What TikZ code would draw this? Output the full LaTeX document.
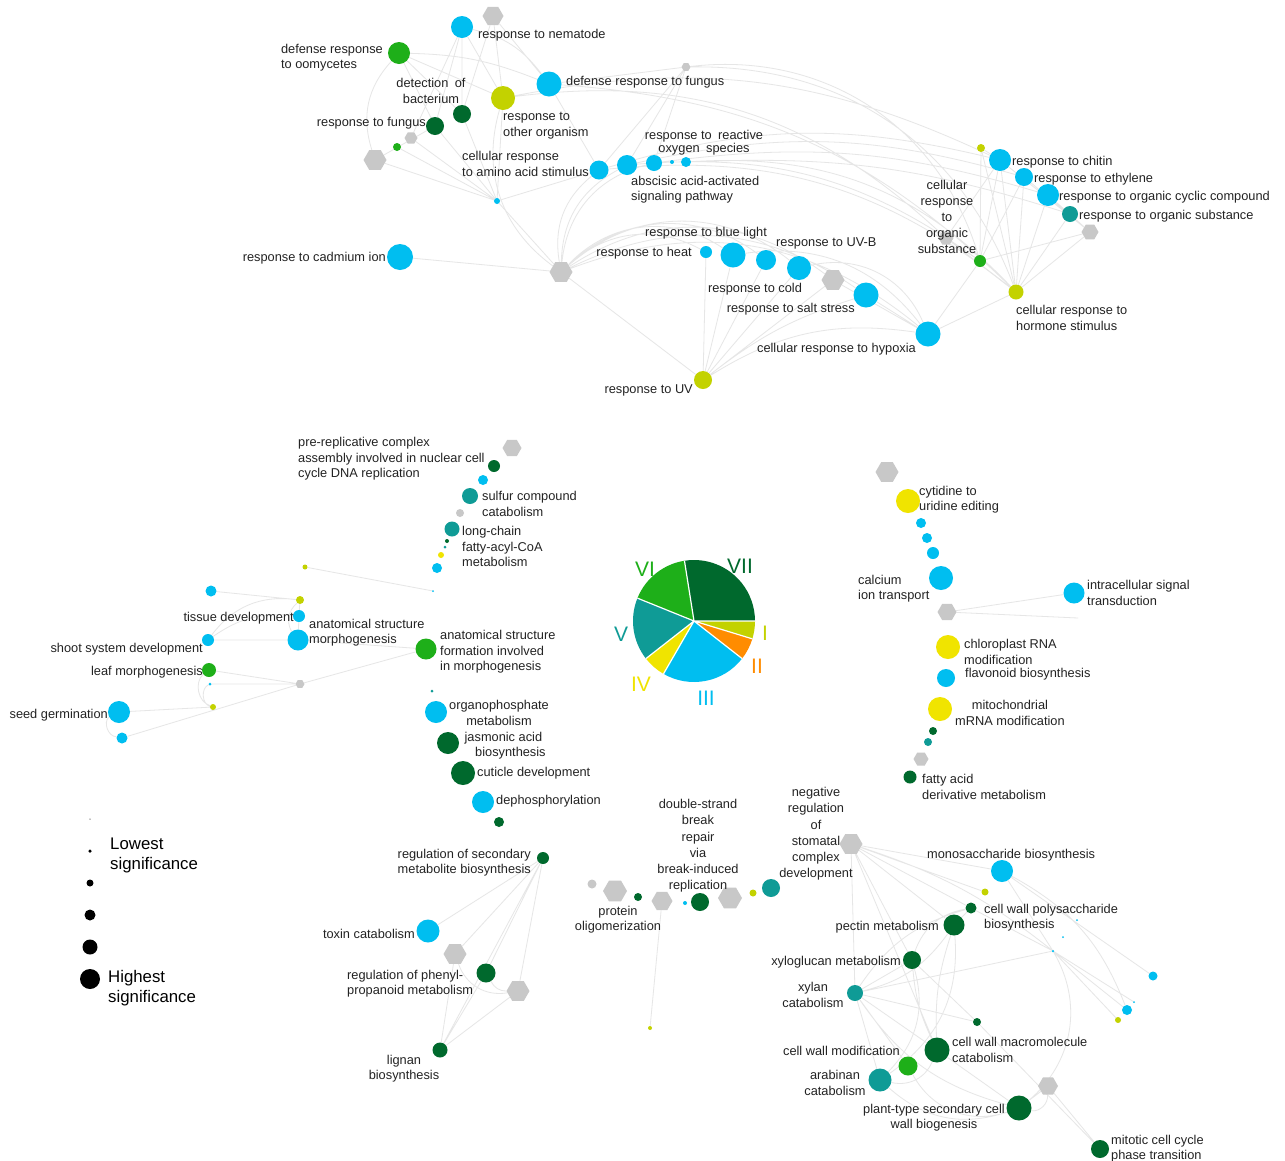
\documentclass[tikz,border=0pt]{standalone}
\usepackage{fontspec}
\setmainfont{Liberation Sans}
\usetikzlibrary{shapes.geometric}
\pgfdeclarelayer{bg}
\pgfsetlayers{bg,main}
\definecolor{cIII}{RGB}{0,190,240}
\definecolor{cVII}{RGB}{0,105,45}
\definecolor{cVI}{RGB}{30,175,25}
\definecolor{cV}{RGB}{15,155,150}
\definecolor{cI}{RGB}{195,210,0}
\definecolor{cII}{RGB}{255,140,0}
\definecolor{cIV}{RGB}{240,228,0}
\definecolor{hexg}{RGB}{200,200,200}
\definecolor{edg}{RGB}{230,230,230}
\definecolor{txt}{RGB}{35,35,35}
\tikzset{
  dot/.style 2 args={circle, fill=#1, inner sep=0pt, minimum size=#2},
  hx/.style={regular polygon, regular polygon sides=6, fill=hexg, inner sep=0pt, minimum size=#1},
  lb/.style={font=\fontsize{12.8}{15.4}\selectfont, text=txt, inner sep=0pt, align=left, yshift=-1.8pt},
  lgd/.style={font=\fontsize{16.8}{20}\selectfont, text=black, inner sep=0pt, align=left, yshift=-1.8pt},
  pl/.style={font=\fontsize{21}{21}\selectfont, inner sep=0pt},
  ed/.style={draw=edg, line width=0.8pt},
  sl/.style={draw=white, line width=1.2pt}
}
\newcommand\GOn[5]{\node[dot={#4}{#5}] (#1) at (#2,#3) {};}
\newcommand\HXn[4]{\node[hx=#4] (#1) at (#2,#3) {};}
\begin{document}
\begin{tikzpicture}[x=1pt,y=-1pt]
\useasboundingbox (0,0) rectangle (1285,1160);
% ---------- top cluster nodes
\HXn{hA}{493}{16}{21}
\GOn{nem}{462}{27}{cIII}{22}
\GOn{oom}{399}{53}{cVI}{22}
\GOn{dfung}{549}{84}{cIII}{25}
\HXn{hB}{686}{67}{9}
\GOn{oth}{503}{98}{cI}{24}
\GOn{det}{462}{114}{cVII}{18}
\GOn{rfung}{435}{126}{cVII}{18}
\HXn{hC}{411}{138}{13}
\GOn{gsm}{397}{147}{cVI}{8}
\HXn{hD}{375}{160}{23}
\GOn{bsm}{497}{201}{cIII}{6}
\GOn{amino}{599}{170}{cIII}{19}
\GOn{rosa}{627}{165}{cIII}{20}
\GOn{rosb}{654}{163}{cIII}{16}
\GOn{rosc}{672}{162}{cIII}{4}
\GOn{rosd}{686}{162}{cIII}{10}
\GOn{cad}{400}{257}{cIII}{26}
\HXn{hE}{561}{272}{23}
\GOn{heat}{706}{252}{cIII}{12}
\GOn{bluel}{733}{255}{cIII}{25}
\GOn{cold}{766}{260}{cIII}{20}
\GOn{uvb}{799}{268}{cIII}{24}
\HXn{hF}{833}{280}{23}
\GOn{salt}{866}{295}{cIII}{25}
\GOn{hyp}{928}{334}{cIII}{25}
\GOn{uv}{703}{380}{cI}{18}
\GOn{ysm}{981}{148}{cI}{8}
\GOn{chit}{1000}{160}{cIII}{22}
\GOn{eth}{1024}{177}{cIII}{18}
\GOn{cyc}{1048}{195}{cIII}{22}
\GOn{osub}{1070}{214}{cV}{16}
\HXn{hG}{1090}{232}{17}
\HXn{hH}{946}{238}{15}
\GOn{cgsub}{980}{261}{cVI}{12}
\GOn{horm}{1016}{292}{cI}{15}
% ---------- lower-left cluster
\HXn{hI}{512}{448}{19}
\GOn{prc}{494}{466}{cVII}{12}
\GOn{ba}{483}{480}{cIII}{10}
\GOn{sulf}{470}{496}{cV}{16}
\GOn{ga}{460}{513}{hexg}{8}
\GOn{lcf}{452}{529}{cV}{15}
\GOn{ta}{447}{541}{cVII}{4}
\GOn{tb}{445}{547}{cV}{3}
\GOn{ya}{441}{555}{cIV}{6}
\GOn{bb}{437}{568}{cIII}{10}
\GOn{yga}{305}{567}{cI}{5}
\GOn{tba}{433}{591}{cIII}{2}
\GOn{bc}{211}{591}{cIII}{11}
\GOn{ygb}{300}{600}{cI}{8}
\GOn{tis}{299}{616}{cIII}{12}
\GOn{asm}{298}{640}{cIII}{21}
\GOn{shoot}{208}{640}{cIII}{12}
\GOn{asf}{426}{649}{cVI}{21}
\GOn{leaf}{209}{670}{cVI}{14}
\GOn{tbb}{210}{684}{cIII}{3}
\HXn{hJ}{300}{684}{9}
\GOn{ygc}{213}{707}{cI}{6}
\GOn{seed}{119}{712}{cIII}{22}
\GOn{bd}{122}{738}{cIII}{11}
% ---------- middle column
\GOn{tta}{432}{691}{cV}{3}
\GOn{orgp}{436}{712}{cIII}{22}
\GOn{jas}{448}{743}{cVII}{22}
\GOn{cut}{463}{773}{cVII}{24}
\GOn{deph}{483}{802}{cIII}{22}
\GOn{dga}{499}{822}{cVII}{10}
\GOn{rsm}{543}{858}{cVII}{12}
\GOn{tox}{428}{931}{cIII}{23}
\HXn{hK}{455}{954}{23}
\GOn{phen}{486}{973}{cVII}{19}
\HXn{hL}{518}{991}{23}
\GOn{lign}{440}{1050}{cVII}{15}
% ---------- legend dots
\GOn{lgz}{90}{819}{black!50}{1.5}
\GOn{lga}{90}{851}{black}{3.5}
\GOn{lgb}{90}{883}{black}{7}
\GOn{lgc}{90}{915}{black}{11}
\GOn{lgd}{90}{947}{black}{15}
\GOn{lge}{90}{979}{black}{20}
% ---------- right middle
\HXn{hM}{887}{472}{23}
\GOn{cyt}{908}{501}{cIV}{24}
\GOn{be}{921}{523}{cIII}{10}
\GOn{bf}{927}{538}{cIII}{10}
\GOn{bgg}{933}{553}{cIII}{12}
\GOn{calc}{941}{578}{cIII}{24}
\HXn{hN}{947}{612}{19}
\GOn{ist}{1074}{593}{cIII}{21}
\coordinate (ce) at (1078,618);
\GOn{chl}{948}{647}{cIV}{24}
\GOn{flav}{946}{678}{cIII}{18}
\GOn{mito}{940}{709}{cIV}{24}
\GOn{dgb}{933}{731}{cVII}{8}
\GOn{tlb}{928}{742}{cV}{8}
\HXn{hO}{921}{759}{15}
\GOn{fad}{910}{777}{cVII}{13}
% ---------- bottom middle
\GOn{gcb}{592}{884}{hexg}{9}
\HXn{hP}{615}{891}{24}
\GOn{dgc}{638}{897}{cVII}{8}
\HXn{hQ}{662}{901}{21}
\GOn{tbc}{685}{903}{cIII}{4}
\GOn{dsb}{700}{902}{cVII}{18}
\HXn{hR}{730}{898}{24}
\GOn{ygd}{753}{893}{cI}{7}
\GOn{tlc}{771}{888}{cV}{18}
\GOn{yge}{650}{1028}{cI}{4}
% ---------- bottom right
\HXn{hS}{851}{844}{23}
\GOn{mono}{1002}{871}{cIII}{22}
\GOn{ygf}{985}{892}{cI}{7}
\GOn{cwps}{971}{908}{cVII}{11}
\GOn{pect}{954}{925}{cVII}{21}
\GOn{xylo}{912}{960}{cVII}{18}
\GOn{xyl}{855}{993}{cV}{16}
\GOn{dgd}{977}{1022}{cVII}{8}
\GOn{cwm}{937}{1050}{cVII}{25}
\GOn{cwmod}{908}{1066}{cVI}{19}
\GOn{arab}{880}{1080}{cV}{23}
\HXn{hT}{1048}{1086}{20}
\GOn{pts}{1019}{1108}{cVII}{25}
\GOn{mit}{1100}{1149}{cVII}{18}
\GOn{tbd}{1077}{920}{cIII}{2}
\GOn{tbe}{1063}{937}{cIII}{2}
\GOn{tbf}{1053}{951}{cIII}{2.5}
\GOn{bh}{1153}{976}{cIII}{9}
\GOn{tbg}{1134}{1002}{cIII}{2}
\GOn{bi}{1127}{1010}{cIII}{10}
\GOn{ygg}{1118}{1020}{cI}{6}
% ---------- edges
\begin{pgfonlayer}{bg}
\fill[white] (0,0) rectangle (1285,1160);
\draw[ed] (nem)--(oth) (nem)--(det) (nem)--(rfung) (nem) to[bend left=20] (dfung) (nem)--(hC)
 (oom)--(oth) (oom) to[bend left=10] (dfung) (oom)--(rfung) (oom)--(det) (oom) to[bend right=30] (hD)
 (hA)--(oth) (hA)--(dfung) (hA)--(det)
 (det)--(bsm) (rfung)--(bsm) (hC)--(bsm) (gsm)--(bsm) (hD)--(bsm) (oth)--(bsm) (rfung)--(hD)
 (bsm)--(amino) (bsm)--(hE)
 (hB)--(dfung) (hB)--(amino) (hB)--(rosa) (hB)--(rosb)
 (cad)--(hE) (dfung)--(amino);
\draw[ed] (oth) to[bend left=18] (chit) (amino) to[bend left=15] (chit) (rosa) to[bend left=14] (eth)
 (rosb) to[bend left=12] (cyc) (rosd) to[bend left=10] (osub) (dfung) to[bend left=20] (horm)
 (amino) to[bend left=22] (horm) (rosa) to[bend left=20] (cgsub) (hB) to[bend left=40] (cgsub)
 (hB) to[bend left=35] (horm) (oth) to[bend left=25] (hH) (rosd) to[bend left=25] (horm);
\draw[ed] (hE) to[bend left=30] (amino) (hE) to[bend left=30] (rosa) (hE) to[bend left=35] (rosb) (hE) to[bend left=35] (oth)
 (hE) to[bend left=35] (heat) (hE) to[bend left=40] (bluel) (hE) to[bend left=40] (cold) (hE) to[bend left=40] (uvb)
 (hE) to[bend left=35] (hF) (hE) to[bend left=30] (salt) (hE) to[bend left=30] (hyp)
 (uv)--(hE) (uv)--(heat) (uv)--(bluel) (uv)--(cold) (uv)--(hF) (uv) to[bend left=10] (salt) (uv) to[bend left=20] (hyp) (uv)--(uvb)
 (hyp)--(hF) (hyp)--(salt) (hyp)--(cgsub) (hyp)--(horm) (hyp) to[bend right=40] (uvb) (hyp) to[bend right=30] (bluel);
\draw[ed] (horm)--(chit) (horm)--(eth) (horm)--(cyc) (horm)--(osub) (horm)--(hG) (horm)--(ysm) (horm)--(hH)
 (cgsub)--(chit) (cgsub)--(eth) (cgsub)--(ysm) (cgsub)--(hG) (cgsub)--(hH)
 (hG)--(chit) (hG)--(eth) (hG)--(cyc) (ysm)--(chit) (hH)--(chit);
\draw[ed] (yga)--(tba) (bc)--(ygb) (ygb)--(tis) (ygb) to[bend right=40] (asm) (ygb) to[bend right=30] (shoot)
 (tis)--(asm) (shoot)--(asm) (tis) to[bend right=20] (shoot) (asm)--(asf)
 (leaf)--(hJ) (tbb)--(hJ) (hJ)--(asf) (ygc)--(seed) (seed) to[bend right=70] (bd) (bd)--(hJ)
 (leaf) to[bend right=60] (ygc) (tbb) to[bend right=70] (ygc);
\draw[ed] (rsm)--(tox) (rsm)--(hK) (rsm)--(phen) (rsm)--(hL) (rsm)--(lign) (phen)--(lign)
 (hK)--(lign) (hL)--(lign) (hK) to[bend right=40] (hL) (phen) to[bend right=30] (hL);
\draw[ed] (hN)--(ist) (hN)--(ce) (hQ)--(yge);
\draw[ed] (hS)--(mono) (hS)--(ygf) (hS)--(cwps) (hS)--(pect) (hS)--(xylo) (hS)--(xyl) (hS)--(cwm) (hS) to[bend left=10] (tbf)
 (mono)--(bh) (mono)--(tbf) (mono) to[bend left=20] (bi)
 (cwps)--(pect) (cwps)--(tbf) (cwps) to[bend right=30] (xylo) (cwps) to[bend right=20] (xyl)
 (pect) to[bend left=20] (xyl) (pect) to[bend right=10] (cwm) (pect) to[bend left=30] (arab)
 (xylo)--(xyl) (xylo)--(dgd) (xylo) to[bend right=10] (cwm) (xylo) to[bend left=30] (arab)
 (xyl)--(dgd) (xyl)--(cwm) (xyl)--(arab) (xyl)--(cwmod) (xyl) to[bend right=20] (pts) (xyl)--(tbf)
 (tbf)--(bi) (tbf)--(ygg) (tbf) to[bend left=40] (pts) (tbf)--(tbg)
 (dgd)--(mit) (cwm)--(pts) (cwm) to[bend left=40] (arab) (cwmod) to[bend right=40] (pts) (arab) to[bend right=30] (pts)
 (pts)--(hT) (hT)--(mit) (hT) to[bend left=50] (pts);
\end{pgfonlayer}
% ---------- pie
\begin{scope}[shift={(694,621)}, yscale=-1]
\fill[cVII] (0,0) -- (99:61) arc[start angle=99, end angle=0, radius=61] -- cycle;
\fill[cI] (0,0) -- (0:61) arc[start angle=0, end angle=-17, radius=61] -- cycle;
\fill[cII] (0,0) -- (-17:61) arc[start angle=-17, end angle=-38, radius=61] -- cycle;
\fill[cIII] (0,0) -- (-38:61) arc[start angle=-38, end angle=-120, radius=61] -- cycle;
\fill[cIV] (0,0) -- (-120:61) arc[start angle=-120, end angle=-142, radius=61] -- cycle;
\fill[cV] (0,0) -- (-142:61) arc[start angle=-142, end angle=-202, radius=61] -- cycle;
\fill[cVI] (0,0) -- (-202:61) arc[start angle=-202, end angle=-261, radius=61] -- cycle;
\draw[sl] (0,0)--(99:61) (0,0)--(0:61) (0,0)--(-17:61) (0,0)--(-38:61) (0,0)--(-120:61) (0,0)--(-142:61) (0,0)--(-202:61);
\end{scope}
\node[pl, text=cVII] (pVII) at (740,566) {VII};
\node[pl, text=cI] (pI) at (765,633) {I};
\node[pl, text=cII] (pII) at (757,666) {II};
\node[pl, text=cIII] (pIII) at (706,698) {III};
\node[pl, text=cIV] (pIV) at (641,684) {IV};
\node[pl, text=cV] (pV) at (621,634) {V};
\node[pl, text=cVI] (pVI) at (645,569) {VI};
% ---------- labels top
\node[lb, anchor=west] (l1) at (478,33) {response to nematode};
\node[lb, anchor=east] (l2) at (383,56) {defense response\\to oomycetes};
\node[lb, anchor=west] (l3) at (566,80) {defense response to fungus};
\node[lb, align=center] (l4) at (431,89) {detection\enspace of\\bacterium};
\node[lb, anchor=west] (l5) at (503,124) {response to\\other organism};
\node[lb, anchor=east] (l6) at (426,121) {response to fungus};
\node[lb, anchor=west] (l7) at (462,162) {cellular response\\to amino acid stimulus};
\node[lb, align=center, font=\fontsize{12.8}{12.5}\selectfont] (l8) at (704,141) {response to\enspace reactive\\oxygen\enspace species};
\node[lb, anchor=west] (l9) at (631,188) {abscisic acid-activated\\signaling pathway};
\node[lb, anchor=east] (l10) at (386,256) {response to cadmium ion};
\node[lb] (l11) at (706,231) {response to blue light};
\node[lb, anchor=east] (l12) at (692,251) {response to heat};
\node[lb, anchor=west] (l13) at (776,242) {response to UV-B};
\node[lb] (l14) at (755,287) {response to cold};
\node[lb, anchor=east] (l15) at (855,307) {response to salt stress};
\node[lb, anchor=east] (l16) at (916,347) {cellular response to hypoxia};
\node[lb, anchor=east] (l17) at (693,389) {response to UV};
\node[lb, anchor=west] (l18) at (1012,160) {response to chitin};
\node[lb, anchor=west] (l19) at (1034,177) {response to ethylene};
\node[lb, anchor=west] (l20) at (1059,195) {response to organic cyclic compound};
\node[lb, anchor=west] (l21) at (1079,214) {response to organic substance};
\node[lb, align=center, font=\fontsize{12.8}{16}\selectfont] (l22) at (947,215) {cellular\\response\\to\\organic\\substance};
\node[lb, anchor=west] (l23) at (1016,316) {cellular response to\\hormone stimulus};
% ---------- labels lower left and middle
\node[lb, anchor=west] (l24) at (298,457) {pre-replicative complex\\assembly involved in nuclear cell\\cycle DNA replication};
\node[lb, anchor=west] (l25) at (482,502) {sulfur compound\\catabolism};
\node[lb, anchor=west] (l26) at (462,545) {long-chain\\fatty-acyl-CoA\\metabolism};
\node[lb, anchor=east] (l27) at (294,616) {tissue development};
\node[lb, anchor=west] (l28) at (309,631) {anatomical structure\\morphogenesis};
\node[lb, anchor=east] (l29) at (203,647) {shoot system development};
\node[lb, anchor=west] (l30) at (440,650) {anatomical structure\\formation involved\\in morphogenesis};
\node[lb, anchor=east] (l31) at (203,670) {leaf morphogenesis};
\node[lb, anchor=east] (l32) at (108,713) {seed germination};
\node[lb, anchor=west, align=center] (l33) at (449,711) {organophosphate\\metabolism};
\node[lb, anchor=west, align=center] (l34) at (461,744) {jasmonic acid\\\hspace*{14pt}biosynthesis};
\node[lb, anchor=west] (l35) at (477,771) {cuticle development};
\node[lb, anchor=west] (l36) at (496,799) {dephosphorylation};
\node[lb, anchor=east] (l37) at (531,861) {regulation of secondary\\metabolite biosynthesis};
\node[lb, anchor=east] (l38) at (415,932) {toxin catabolism};
\node[lb, anchor=west] (l39) at (347,982) {regulation of phenyl-\\propanoid metabolism};
\node[lb, align=center] (l40) at (404,1067) {lignan\\biosynthesis};
% ---------- legend
\node[lgd, anchor=west] (lg1) at (110,854) {Lowest\\significance};
\node[lgd, anchor=west] (lg2) at (108,986) {Highest\\significance};
% ---------- labels right middle
\node[lb, anchor=west] (l41) at (919,498) {cytidine to\\uridine editing};
\node[lb, anchor=west] (l42) at (858,587) {calcium\\ion transport};
\node[lb, anchor=west] (l43) at (1087,591) {intracellular signal\\transduction};
\node[lb, anchor=west] (l44) at (964,650) {chloroplast RNA\\modification};
\node[lb, anchor=west] (l45) at (965,672) {flavonoid biosynthesis};
\node[lb, anchor=west, align=center] (l46) at (955,711) {mitochondrial\\mRNA modification};
\node[lb, anchor=west] (l47) at (922,785) {fatty acid\\derivative metabolism};
% ---------- labels bottom
\node[lb, align=center] (l48) at (618,918) {protein\\oligomerization};
\node[lb, align=center, font=\fontsize{12.8}{16.2}\selectfont] (l49) at (698,844) {double-strand\\break\\repair\\via\\break-induced\\replication};
\node[lb, align=center, font=\fontsize{12.8}{16.2}\selectfont] (l50) at (816,832) {negative\\regulation\\of\\stomatal\\complex\\development};
\node[lb, anchor=west] (l51) at (927,853) {monosaccharide biosynthesis};
\node[lb, anchor=west] (l52) at (984,916) {cell wall polysaccharide\\biosynthesis};
\node[lb, anchor=east] (l53) at (939,925) {pectin metabolism};
\node[lb, anchor=east] (l54) at (901,960) {xyloglucan metabolism};
\node[lb, align=center] (l55) at (813,993) {xylan\\catabolism};
\node[lb, anchor=east] (l56) at (900,1049) {cell wall modification};
\node[lb, anchor=west] (l57) at (952,1048) {cell wall macromolecule\\catabolism};
\node[lb, align=center] (l58) at (835,1081) {arabinan\\catabolism};
\node[lb, anchor=east, align=center] (l59) at (1005,1116) {plant-type secondary cell\\wall biogenesis};
\node[lb, anchor=west] (l60) at (1111,1147) {mitotic cell cycle\\phase transition};
\end{tikzpicture}
\end{document}
